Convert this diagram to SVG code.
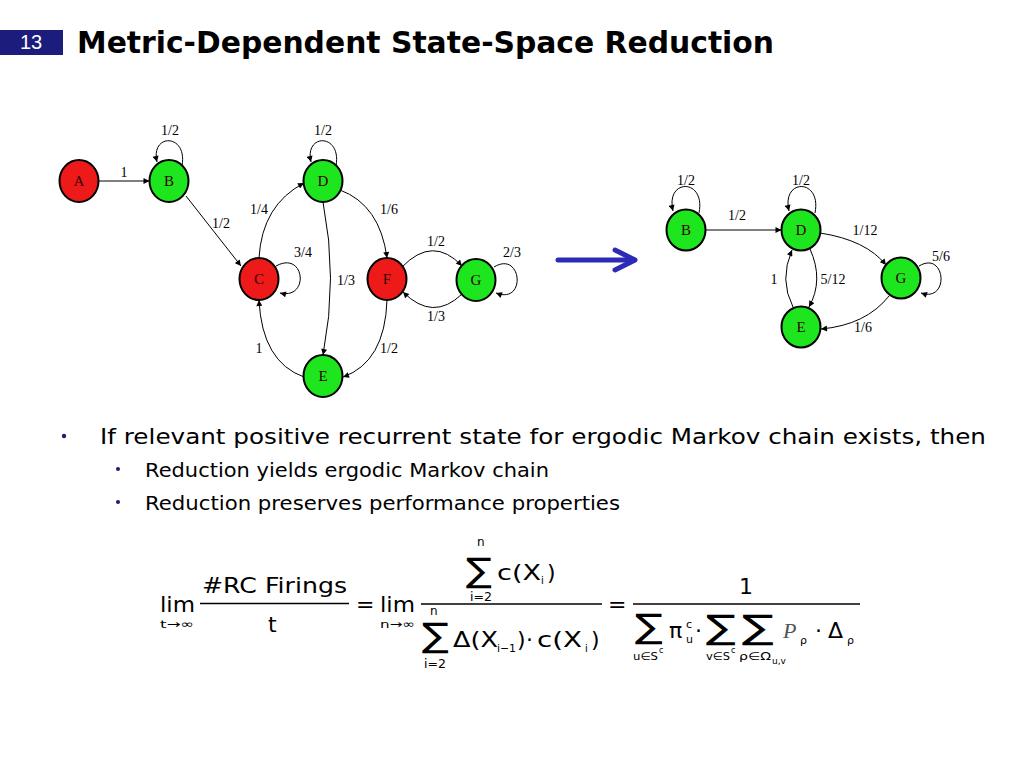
<svg xmlns="http://www.w3.org/2000/svg" width="1024" height="768" viewBox="0 0 1024 768">
<defs>
<marker id="ah" viewBox="0 0 10 10" refX="10" refY="5" markerWidth="7" markerHeight="6" markerUnits="userSpaceOnUse" orient="auto">
<path d="M0,0 L10,5 L0,10 z" fill="#000"/>
</marker>
<style>
.red{fill:#ee1a1a;stroke:#000;stroke-width:2}
.grn{fill:#1ee61e;stroke:#000;stroke-width:2}
.nl{font-family:"Liberation Serif",serif;font-size:15px;text-anchor:middle;fill:#300}
.el{font-family:"Liberation Serif",serif;font-size:14px;text-anchor:middle;fill:#000}
.cn path{fill:none;stroke:#000;stroke-width:1;marker-end:url(#ah)}
.body{font-family:"DejaVu Sans","Liberation Sans",sans-serif;fill:#000}
.f{font-family:"DejaVu Sans","Liberation Sans",sans-serif;fill:#000}
</style>
</defs>
<rect width="1024" height="768" fill="#fff"/>
<!-- title -->
<g id="title">
<rect x="0" y="30" width="63" height="25" fill="#1c1c7c"/>
<text x="31" y="49" font-family="Liberation Sans,sans-serif" font-size="20" fill="#fff" text-anchor="middle">13</text>
<text x="77" y="53" font-family="DejaVu Sans,sans-serif" font-weight="bold" font-size="30" textLength="697" lengthAdjust="spacingAndGlyphs">Metric-Dependent State-Space Reduction</text>
</g>
<!-- left graph connectors -->
<g id="connectors-left" class="cn">
<path d="M98.5,181 L149.5,181"/>
<path d="M182,166 C188,133 150,133 157,162"/>
<path d="M186,196 L241,266"/>
<path d="M259,258 Q262,205 304,183"/>
<path d="M276,266 C305,250 310,300 280,293"/>
<path d="M336,166 C342,133 304,133 311,162"/>
<path d="M323,202 Q338,278 323,355"/>
<path d="M340,190 Q380,205 387,258"/>
<path d="M402,267 Q433,235 462,266"/>
<path d="M462,294 Q433,322 403,292"/>
<path d="M494,267 C522,250 527,305 496,293"/>
<path d="M387,300 Q385,362 343,377"/>
<path d="M304,377 Q262,362 259,300"/>
</g>
<g id="nodeA"><ellipse cx="79" cy="181" rx="19.5" ry="21" class="red"/><text x="79" y="186" class="nl">A</text></g>
<g id="nodeB"><ellipse cx="169" cy="181" rx="19.5" ry="21" class="grn"/><text x="169" y="186" class="nl">B</text></g>
<g id="nodeD"><ellipse cx="323" cy="181" rx="19.5" ry="21" class="grn"/><text x="323" y="186" class="nl">D</text></g>
<g id="nodeC"><ellipse cx="259" cy="279" rx="19.5" ry="21" class="red"/><text x="259" y="284" class="nl">C</text></g>
<g id="nodeF"><ellipse cx="387" cy="279" rx="19.5" ry="21" class="red"/><text x="387" y="284" class="nl">F</text></g>
<g id="nodeG"><ellipse cx="476" cy="280" rx="19.5" ry="21" class="grn"/><text x="476" y="285" class="nl">G</text></g>
<g id="nodeE"><ellipse cx="323" cy="376" rx="19.5" ry="21" class="grn"/><text x="323" y="381" class="nl">E</text></g>
<g id="labels-left">
<text x="170" y="135" class="el">1/2</text>
<text x="124" y="177" class="el">1</text>
<text x="221" y="228" class="el">1/2</text>
<text x="259" y="214" class="el">1/4</text>
<text x="303" y="257" class="el">3/4</text>
<text x="323" y="135" class="el">1/2</text>
<text x="389" y="214" class="el">1/6</text>
<text x="346" y="285" class="el">1/3</text>
<text x="436" y="246" class="el">1/2</text>
<text x="512" y="257" class="el">2/3</text>
<text x="436" y="321" class="el">1/3</text>
<text x="259" y="353" class="el">1</text>
<text x="389" y="353" class="el">1/2</text>
</g>
<!-- big arrow -->
<g id="bigarrow" fill="none" stroke="#2b2bb8" stroke-width="5" stroke-linecap="round" stroke-linejoin="round">
<path d="M558,260 L634,260"/>
<path d="M615,250 L635,260 L615,270"/>
</g>
<!-- right graph -->
<g id="connectors-right" class="cn">
<path d="M699,213 C706,178 665,178 673,211"/>
<path d="M705.5,230 L781.5,230"/>
<path d="M815,213 C822,178 781,178 789,211"/>
<path d="M820,233 Q866,240 886,265"/>
<path d="M919,266 C946,250 950,303 921,293"/>
<path d="M810,249 Q824,280 809,307"/>
<path d="M793,307 Q779,280 792,250"/>
<path d="M889,296 Q866,325 821,329"/>
</g>
<g id="nodeB2"><ellipse cx="686" cy="230" rx="19.5" ry="20.5" class="grn"/><text x="686" y="235" class="nl">B</text></g>
<g id="nodeD2"><ellipse cx="801" cy="230" rx="19.5" ry="20.5" class="grn"/><text x="801" y="235" class="nl">D</text></g>
<g id="nodeG2"><ellipse cx="901" cy="278" rx="19.5" ry="20.5" class="grn"/><text x="901" y="283" class="nl">G</text></g>
<g id="nodeE2"><ellipse cx="801" cy="327" rx="19.5" ry="20.5" class="grn"/><text x="801" y="332" class="nl">E</text></g>
<g id="labels-right">
<text x="686" y="185" class="el">1/2</text>
<text x="737" y="220" class="el">1/2</text>
<text x="801" y="185" class="el">1/2</text>
<text x="865" y="235" class="el">1/12</text>
<text x="941" y="261" class="el">5/6</text>
<text x="774" y="284" class="el">1</text>
<text x="833" y="284" class="el">5/12</text>
<text x="863" y="332" class="el">1/6</text>
</g>
<!-- bullets -->
<g id="bullets">
<circle cx="64" cy="436" r="2.2" fill="#1c1c7c"/>
<circle cx="118" cy="469" r="2" fill="#1c1c7c"/>
<circle cx="118" cy="502" r="2" fill="#1c1c7c"/>
<text x="100" y="444" class="body" font-size="22" textLength="886" lengthAdjust="spacingAndGlyphs">If relevant positive recurrent state for ergodic Markov chain exists, then</text>
<text x="145" y="477" class="body" font-size="19" textLength="404" lengthAdjust="spacingAndGlyphs">Reduction yields ergodic Markov chain</text>
<text x="145" y="510" class="body" font-size="19" textLength="475" lengthAdjust="spacingAndGlyphs">Reduction preserves performance properties</text>
</g>
<!-- formula -->
<g id="formula" class="f">
<text x="160" y="612" font-size="22" textLength="35" lengthAdjust="spacingAndGlyphs">lim</text>
<text x="160" y="628" font-size="11" textLength="34" lengthAdjust="spacingAndGlyphs">t→∞</text>
<text x="202" y="593" font-size="22" textLength="145" lengthAdjust="spacingAndGlyphs">#RC Firings</text>
<line x1="200" y1="603.5" x2="349" y2="603.5" stroke="#000" stroke-width="1.3"/>
<text x="268" y="632" font-size="22">t</text>
<text x="356" y="612" font-size="22">=</text>
<text x="380" y="612" font-size="22" textLength="35" lengthAdjust="spacingAndGlyphs">lim</text>
<text x="380" y="628" font-size="11" textLength="35" lengthAdjust="spacingAndGlyphs">n→∞</text>
<line x1="421" y1="604" x2="602" y2="604" stroke="#000" stroke-width="1.3"/>
<text x="477" y="546" font-size="12">n</text>
<text x="466" y="582" font-size="34" textLength="26" lengthAdjust="spacingAndGlyphs">∑</text>
<text x="470" y="601" font-size="12" textLength="22" lengthAdjust="spacingAndGlyphs">i=2</text>
<text x="497" y="580" font-size="22" textLength="44" lengthAdjust="spacingAndGlyphs">c(X</text>
<text x="541" y="584" font-size="10">i</text>
<text x="547" y="580" font-size="22">)</text>
<text x="430" y="615" font-size="12">n</text>
<text x="422" y="647" font-size="34" textLength="27" lengthAdjust="spacingAndGlyphs">∑</text>
<text x="424" y="668" font-size="12" textLength="22" lengthAdjust="spacingAndGlyphs">i=2</text>
<text x="453" y="647" font-size="22" textLength="45" lengthAdjust="spacingAndGlyphs">Δ(X</text>
<text x="497" y="652" font-size="11" textLength="19" lengthAdjust="spacingAndGlyphs">i−1</text>
<text x="517" y="647" font-size="22">)</text>
<text x="526" y="647" font-size="22">·</text>
<text x="537" y="647" font-size="22" textLength="45" lengthAdjust="spacingAndGlyphs">c(X</text>
<text x="585" y="652" font-size="10">i</text>
<text x="591" y="647" font-size="22">)</text>
<text x="608" y="612" font-size="22">=</text>
<text x="739" y="594" font-size="22">1</text>
<line x1="633" y1="604" x2="860" y2="604" stroke="#000" stroke-width="1.3"/>
<text x="635" y="638" font-size="34" textLength="28" lengthAdjust="spacingAndGlyphs">∑</text>
<text x="633" y="660" font-size="11" textLength="25" lengthAdjust="spacingAndGlyphs">u∈S</text>
<text x="659" y="653" font-size="8">c</text>
<text x="669" y="638" font-size="22">π</text>
<text x="686" y="628" font-size="11">c</text>
<text x="686" y="643" font-size="11">u</text>
<text x="695" y="638" font-size="22">·</text>
<text x="706" y="639" font-size="34" textLength="30" lengthAdjust="spacingAndGlyphs">∑</text>
<text x="706" y="660" font-size="11" textLength="24" lengthAdjust="spacingAndGlyphs">v∈S</text>
<text x="731" y="653" font-size="8">c</text>
<text x="742" y="639" font-size="34" textLength="32" lengthAdjust="spacingAndGlyphs">∑</text>
<text x="739" y="660" font-size="11" textLength="32" lengthAdjust="spacingAndGlyphs">ρ∈Ω</text>
<text x="772" y="664" font-size="9">u,v</text>
<text x="783" y="638" font-size="22" font-family="Liberation Serif,serif" font-style="italic" fill="#555">P</text>
<text x="800" y="644" font-size="11">ρ</text>
<text x="815" y="638" font-size="22">·</text>
<text x="828" y="638" font-size="22">Δ</text>
<text x="847" y="644" font-size="11">ρ</text>
</g>
</svg>
